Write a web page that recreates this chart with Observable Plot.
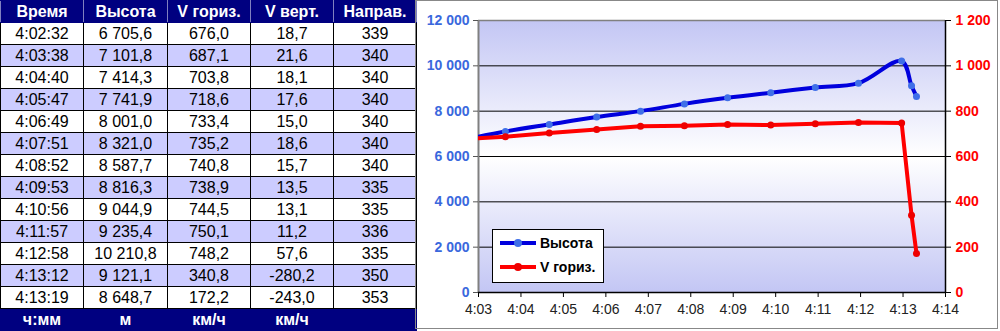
<!DOCTYPE html>
<html>
<head>
<meta charset="utf-8">
<script src="https://cdn.jsdelivr.net/npm/d3@7"></script>
<script src="https://cdn.jsdelivr.net/npm/@observablehq/plot@0.6"></script>
<style>
  html, body { margin: 0; padding: 0; background: #fff; }
  body { width: 1000px; height: 331px; position: relative; overflow: hidden; font-family: "Liberation Sans", Arial, sans-serif; }
  #tbl { position: absolute; left: 0; top: 0; border-collapse: collapse; table-layout: fixed; width: 416px; }
  #tbl td, #tbl th { border: 1px solid #000; text-align: center; padding: 0; height: 21px; font-size: 16px; color: #000; overflow: hidden; white-space: nowrap; }
  #tbl th { background: #000080; color: #fff; font-weight: bold; font-size: 16px; border-color: #000080 #8080c0; }
  #tbl tr.alt td { background: #ccccff; }
  #tbl tr.foot td { background: #000080; color: #fff; font-weight: bold; font-size: 16px; border-color: #000080; height: 22px; }
  #chart { position: absolute; left: 415px; top: 0; }
  #border { position: absolute; left: 415px; top: 0; width: 581px; height: 327px; border: 1px solid #888; pointer-events: none; }
  #legend { position: absolute; left: 492px; top: 229px; width: 110px; height: 52px; background: #fff; border: 1px solid #000; }
  .li { position: absolute; left: 6px; display: flex; align-items: center; font-weight: bold; font-size: 14px; color: #000; }
  .li svg { margin-right: 3px; }
</style>
</head>
<body>
<table id="tbl"></table>
<div id="chart"></div>
<div id="border"></div>
<div id="legend"></div>
<script>
const headers = ["Время", "Высота", "V гориз.", "V верт.", "Направ."];
const units = ["ч:мм", "м", "км/ч", "км/ч", ""];
const times = ["4:02:32", "4:03:38", "4:04:40", "4:05:47", "4:06:49", "4:07:51", "4:08:52", "4:09:53", "4:10:56", "4:11:57", "4:12:58", "4:13:12", "4:13:19"];
const altitude = [6705.6, 7101.8, 7414.3, 7741.9, 8001.0, 8321.0, 8587.7, 8816.3, 9044.9, 9235.4, 10210.8, 9121.1, 8648.7];
const vHoriz = [676.0, 687.1, 703.8, 718.6, 733.4, 735.2, 740.8, 738.9, 744.5, 750.1, 748.2, 340.8, 172.2];
const vVert = [18.7, 21.6, 18.1, 17.6, 15.0, 18.6, 15.7, 13.5, 13.1, 11.2, 57.6, -280.2, -243.0];
const heading = [339, 340, 340, 340, 340, 340, 340, 335, 335, 336, 335, 350, 353];
const xTickLabels = ["4:03", "4:04", "4:05", "4:06", "4:07", "4:08", "4:09", "4:10", "4:11", "4:12", "4:13", "4:14"];
const leftTicks = [0, 2000, 4000, 6000, 8000, 10000, 12000];
const rightTicks = [0, 200, 400, 600, 800, 1000, 1200];
const seriesNames = ["Высота", "V гориз."];
const seriesColors = ["#0000dd", "#ff0000"];
const markerColors = ["#3f6fe8", "#ee0000"];

function fmt(v, dec) {
  const s = v.toFixed(dec);
  const parts = s.split(".");
  const i = parts[0].replace(/\B(?=(\d{3})+(?!\d))/g, " ");
  return parts.length > 1 ? i + "," + parts[1] : i;
}
function toMin(s) {
  const p = s.split(":").map(Number);
  return p[0] * 60 + p[1] + (p[2] || 0) / 60;
}
function minLabel(m) {
  const h = Math.floor(m / 60), mm = Math.round(m - h * 60);
  return h + ":" + String(mm).padStart(2, "0");
}

// Table
const tbl = document.getElementById("tbl");
let html = "<colgroup>" + [83, 84, 83, 83, 83].map(w => `<col style="width:${w}px">`).join("") + "</colgroup>";
html += "<tr>" + headers.map(h => `<th>${h}</th>`).join("") + "</tr>";
times.forEach((t, i) => {
  html += `<tr class="${i % 2 ? "alt" : ""}"><td>${t}</td><td>${fmt(altitude[i], 1)}</td><td>${fmt(vHoriz[i], 1)}</td><td>${fmt(vVert[i], 1)}</td><td>${heading[i]}</td></tr>`;
});
html += `<tr class="foot">` + units.map(u => `<td>${u}</td>`).join("") + "</tr>";
tbl.innerHTML = html;

// Chart
const data = times.map((t, i) => ({ x: toMin(t), alt: altitude[i], vh: vHoriz[i] }));
const xTicks = xTickLabels.map(toMin);
const xDomain = [xTicks[0], xTicks[xTicks.length - 1]];
const yMax = leftTicks[leftTicks.length - 1];
const ratio = yMax / rightTicks[rightTicks.length - 1];

const chart = Plot.plot({
  width: 585,
  height: 331,
  marginLeft: 63,
  marginRight: 55,
  marginTop: 20,
  marginBottom: 39,
  style: { fontFamily: "'Liberation Sans', Arial, sans-serif", background: "transparent", overflow: "visible" },
  x: { domain: xDomain },
  y: { domain: [0, yMax] },
  marks: [
    Plot.frame({ fill: "url(#bgGrad)", stroke: null }),
    Plot.ruleY(leftTicks.slice(1, -1), { stroke: "#000", strokeWidth: 1 }),
    Plot.ruleY([yMax], { stroke: "#808080", strokeWidth: 1.5 }),
    Plot.ruleX([xDomain[0]], { stroke: "#808080", strokeWidth: 2 }),
    Plot.axisY({ anchor: "left", ticks: leftTicks, tickFormat: d => fmt(d, 0), tickSize: 5, tickPadding: 4, stroke: "#555", fill: "#3a68dd", fontWeight: "bold", fontSize: 14, label: null }),
    Plot.axisY({ anchor: "right", ticks: rightTicks.map(v => v * ratio), tickFormat: d => fmt(d / ratio, 0), tickSize: 5, tickPadding: 5, stroke: "#000", fill: "#ff0000", fontWeight: "bold", fontSize: 14, label: null }),
    Plot.axisX({ ticks: xTicks, tickFormat: minLabel, tickSize: 5, tickPadding: 7, stroke: "#000", fill: "#222", fontSize: 14, label: null }),
    Plot.ruleY([0], { stroke: "#000", strokeWidth: 1.5 }),
    Plot.ruleX([xDomain[1]], { stroke: "#000", strokeWidth: 1.5 }),
    Plot.line(data, { x: "x", y: "alt", stroke: seriesColors[0], strokeWidth: 4, curve: "catmull-rom", clip: true }),
    Plot.dot(data, { x: "x", y: "alt", fill: markerColors[0], r: 3.5, clip: true }),
    Plot.line(data, { x: "x", y: d => d.vh * ratio, stroke: seriesColors[1], strokeWidth: 4, clip: true }),
    Plot.dot(data, { x: "x", y: d => d.vh * ratio, fill: markerColors[1], r: 3.5, clip: true })
  ]
});
const defs = document.createElementNS("http://www.w3.org/2000/svg", "defs");
defs.innerHTML = `<linearGradient id="bgGrad" x1="0" y1="0" x2="0" y2="1">
  <stop offset="0" stop-color="#c3c6f4"/>
  <stop offset="0.5" stop-color="#ffffff"/>
  <stop offset="1" stop-color="#c3c6f4"/>
</linearGradient>`;
chart.insertBefore(defs, chart.firstChild);
document.getElementById("chart").appendChild(chart);

// Legend
const legend = document.getElementById("legend");
legend.innerHTML = seriesNames.map((n, i) => `<div class="li" style="top:${i ? 27 : 3}px">
  <svg width="38" height="20"><line x1="1" x2="37" y1="10" y2="10" stroke="${seriesColors[i]}" stroke-width="4"/><circle cx="19" cy="10" r="4" fill="${markerColors[i]}"/></svg>${n}</div>`).join("");
</script>
</body>
</html>
